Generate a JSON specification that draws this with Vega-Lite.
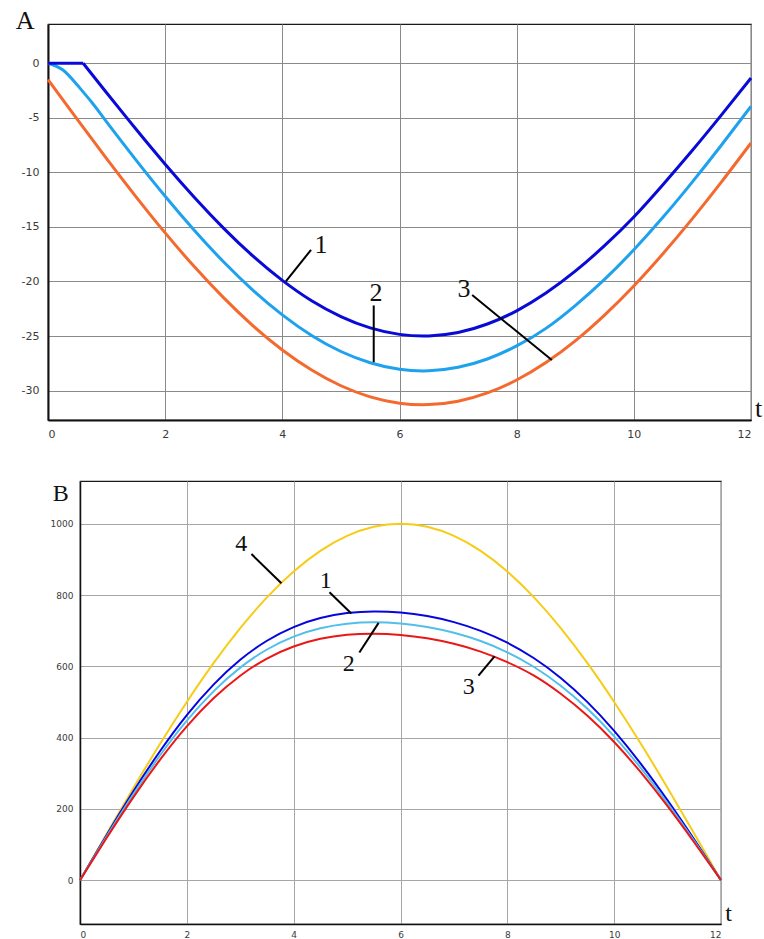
{
  "$schema": "https://vega.github.io/schema/vega-lite/v6.json",
  "background": "white",
  "padding": {"top": 7, "left": 0, "right": 0, "bottom": 0},
  "spacing": 40,
  "config": {
    "view": {"stroke": "#1a1a1a", "strokeWidth": 1.2},
    "axis": {
      "labelFont": "DejaVu Sans",
      "labelColor": "#3a3a3a",
      "labelExpr": "'' + datum.value",
      "ticks": false,
      "grid": true,
      "gridOpacity": 1,
      "gridWidth": 1,
      "domainColor": "#111111"
    }
  },
  "datasets": {
    "curvesA": [
      {"curve": "1a", "t": 0, "v": 0}, {"curve": "1a", "t": 0.6, "v": 0},
      {"curve": "1", "t": 0.6, "v": 0}, {"curve": "1", "t": 1, "v": -2.70}, {"curve": "1", "t": 1.5, "v": -6.03},
      {"curve": "1", "t": 2, "v": -9.25}, {"curve": "1", "t": 2.5, "v": -12.30}, {"curve": "1", "t": 3, "v": -15.13},
      {"curve": "1", "t": 3.5, "v": -17.68}, {"curve": "1", "t": 4, "v": -19.90}, {"curve": "1", "t": 4.5, "v": -21.77},
      {"curve": "1", "t": 5, "v": -23.22}, {"curve": "1", "t": 5.5, "v": -24.26}, {"curve": "1", "t": 6, "v": -24.85},
      {"curve": "1", "t": 6.5, "v": -24.99}, {"curve": "1", "t": 7, "v": -24.68}, {"curve": "1", "t": 7.5, "v": -23.90},
      {"curve": "1", "t": 8, "v": -22.69}, {"curve": "1", "t": 8.5, "v": -21.06}, {"curve": "1", "t": 9, "v": -19.06},
      {"curve": "1", "t": 9.5, "v": -16.72}, {"curve": "1", "t": 10, "v": -14.09}, {"curve": "1", "t": 10.5, "v": -11.11},
      {"curve": "1", "t": 11, "v": -7.98}, {"curve": "1", "t": 11.5, "v": -4.71}, {"curve": "1", "t": 12, "v": -1.35},

      {"curve": "2", "t": 0, "v": 0}, {"curve": "2", "t": 0.25, "v": -0.6}, {"curve": "2", "t": 0.5, "v": -2.0},
      {"curve": "2", "t": 0.75, "v": -3.6}, {"curve": "2", "t": 1, "v": -5.37}, {"curve": "2", "t": 1.5, "v": -8.85},
      {"curve": "2", "t": 2, "v": -12.19}, {"curve": "2", "t": 2.5, "v": -15.33}, {"curve": "2", "t": 3, "v": -18.22},
      {"curve": "2", "t": 3.5, "v": -20.81}, {"curve": "2", "t": 4, "v": -23.06}, {"curve": "2", "t": 4.5, "v": -24.95},
      {"curve": "2", "t": 5, "v": -26.42}, {"curve": "2", "t": 5.5, "v": -27.45}, {"curve": "2", "t": 6, "v": -28.05},
      {"curve": "2", "t": 6.5, "v": -28.19}, {"curve": "2", "t": 7, "v": -27.87}, {"curve": "2", "t": 7.5, "v": -27.11},
      {"curve": "2", "t": 8, "v": -25.91}, {"curve": "2", "t": 8.5, "v": -24.30}, {"curve": "2", "t": 9, "v": -22.21},
      {"curve": "2", "t": 9.5, "v": -19.81}, {"curve": "2", "t": 10, "v": -17.10}, {"curve": "2", "t": 10.5, "v": -14.10},
      {"curve": "2", "t": 11, "v": -10.87}, {"curve": "2", "t": 11.5, "v": -7.47}, {"curve": "2", "t": 12, "v": -3.95},

      {"curve": "3", "t": 0, "v": -1.5}, {"curve": "3", "t": 0.5, "v": -5.15}, {"curve": "3", "t": 1, "v": -8.74},
      {"curve": "3", "t": 1.5, "v": -12.22}, {"curve": "3", "t": 2, "v": -15.55}, {"curve": "3", "t": 2.5, "v": -18.66},
      {"curve": "3", "t": 3, "v": -21.51}, {"curve": "3", "t": 3.5, "v": -24.07}, {"curve": "3", "t": 4, "v": -26.28},
      {"curve": "3", "t": 4.5, "v": -28.12}, {"curve": "3", "t": 5, "v": -29.56}, {"curve": "3", "t": 5.5, "v": -30.58},
      {"curve": "3", "t": 6, "v": -31.16}, {"curve": "3", "t": 6.5, "v": -31.29}, {"curve": "3", "t": 7, "v": -30.98},
      {"curve": "3", "t": 7.5, "v": -30.22}, {"curve": "3", "t": 8, "v": -29.03}, {"curve": "3", "t": 8.5, "v": -27.43},
      {"curve": "3", "t": 9, "v": -25.44}, {"curve": "3", "t": 9.5, "v": -23.08}, {"curve": "3", "t": 10, "v": -20.41},
      {"curve": "3", "t": 10.5, "v": -17.44}, {"curve": "3", "t": 11, "v": -14.24}, {"curve": "3", "t": 11.5, "v": -10.85},
      {"curve": "3", "t": 12, "v": -7.31}
    ],
    "labelsA": [
      {"label": "A", "t": -0.39, "v": 3.84},
      {"label": "1", "t": 4.66, "v": -16.7},
      {"label": "2", "t": 5.6, "v": -21.1},
      {"label": "3", "t": 7.1, "v": -20.7},
      {"label": "t", "t": 12.13, "v": -31.7}
    ],
    "leadersA": [
      {"t": 4.49, "v": -17.1, "t2": 4.06, "v2": -20.0},
      {"t": 5.56, "v": -22.2, "t2": 5.56, "v2": -27.4},
      {"t": 7.24, "v": -21.25, "t2": 8.6, "v2": -27.2}
    ],
    "curvesB": [
      {"curve": "4", "t": 0, "v": 0}, {"curve": "4", "t": 0.5, "v": 130.5}, {"curve": "4", "t": 1, "v": 258.8},
      {"curve": "4", "t": 1.5, "v": 382.7}, {"curve": "4", "t": 2, "v": 500}, {"curve": "4", "t": 2.5, "v": 608.8},
      {"curve": "4", "t": 3, "v": 707.1}, {"curve": "4", "t": 3.5, "v": 793.4}, {"curve": "4", "t": 4, "v": 866.0},
      {"curve": "4", "t": 4.5, "v": 923.9}, {"curve": "4", "t": 5, "v": 965.9}, {"curve": "4", "t": 5.5, "v": 991.4},
      {"curve": "4", "t": 6, "v": 1000}, {"curve": "4", "t": 6.5, "v": 991.4}, {"curve": "4", "t": 7, "v": 965.9},
      {"curve": "4", "t": 7.5, "v": 923.9}, {"curve": "4", "t": 8, "v": 866.0}, {"curve": "4", "t": 8.5, "v": 793.4},
      {"curve": "4", "t": 9, "v": 707.1}, {"curve": "4", "t": 9.5, "v": 608.8}, {"curve": "4", "t": 10, "v": 500},
      {"curve": "4", "t": 10.5, "v": 382.7}, {"curve": "4", "t": 11, "v": 258.8}, {"curve": "4", "t": 11.5, "v": 130.5},
      {"curve": "4", "t": 12, "v": 0},

      {"curve": "1", "t": 0, "v": 0}, {"curve": "1", "t": 0.5, "v": 127.0}, {"curve": "1", "t": 1, "v": 249.3},
      {"curve": "1", "t": 1.5, "v": 362.4}, {"curve": "1", "t": 2, "v": 463.1}, {"curve": "1", "t": 2.5, "v": 548.7},
      {"curve": "1", "t": 3, "v": 618.2}, {"curve": "1", "t": 3.5, "v": 671.8}, {"curve": "1", "t": 4, "v": 710.2},
      {"curve": "1", "t": 4.5, "v": 735.4}, {"curve": "1", "t": 5, "v": 749.4}, {"curve": "1", "t": 5.5, "v": 754.1},
      {"curve": "1", "t": 6, "v": 751.0}, {"curve": "1", "t": 6.5, "v": 741.0}, {"curve": "1", "t": 7, "v": 724.0},
      {"curve": "1", "t": 7.5, "v": 699.5}, {"curve": "1", "t": 8, "v": 666.2}, {"curve": "1", "t": 8.5, "v": 622.7},
      {"curve": "1", "t": 9, "v": 567.4}, {"curve": "1", "t": 9.5, "v": 499.6}, {"curve": "1", "t": 10, "v": 419.1},
      {"curve": "1", "t": 10.5, "v": 326.5}, {"curve": "1", "t": 11, "v": 223.9}, {"curve": "1", "t": 11.5, "v": 113.9},
      {"curve": "1", "t": 12, "v": 0},

      {"curve": "2", "t": 0, "v": 0}, {"curve": "2", "t": 0.5, "v": 123.0}, {"curve": "2", "t": 1, "v": 241.3},
      {"curve": "2", "t": 1.5, "v": 350.5}, {"curve": "2", "t": 2, "v": 447.6}, {"curve": "2", "t": 2.5, "v": 529.8},
      {"curve": "2", "t": 3, "v": 596.3}, {"curve": "2", "t": 3.5, "v": 647.2}, {"curve": "2", "t": 4, "v": 683.4},
      {"curve": "2", "t": 4.5, "v": 706.8}, {"curve": "2", "t": 5, "v": 719.5}, {"curve": "2", "t": 5.5, "v": 723.4},
      {"curve": "2", "t": 6, "v": 720.0}, {"curve": "2", "t": 6.5, "v": 710.3}, {"curve": "2", "t": 7, "v": 694.1},
      {"curve": "2", "t": 7.5, "v": 670.9}, {"curve": "2", "t": 8, "v": 639.4}, {"curve": "2", "t": 8.5, "v": 598.1},
      {"curve": "2", "t": 9, "v": 545.5}, {"curve": "2", "t": 9.5, "v": 480.7}, {"curve": "2", "t": 10, "v": 403.6},
      {"curve": "2", "t": 10.5, "v": 314.6}, {"curve": "2", "t": 11, "v": 215.9}, {"curve": "2", "t": 11.5, "v": 109.9},
      {"curve": "2", "t": 12, "v": 0},

      {"curve": "3", "t": 0, "v": 0}, {"curve": "3", "t": 0.5, "v": 118.8}, {"curve": "3", "t": 1, "v": 233.0},
      {"curve": "3", "t": 1.5, "v": 338.3}, {"curve": "3", "t": 2, "v": 431.6}, {"curve": "3", "t": 2.5, "v": 510.3},
      {"curve": "3", "t": 3, "v": 573.7}, {"curve": "3", "t": 3.5, "v": 621.8}, {"curve": "3", "t": 4, "v": 655.6},
      {"curve": "3", "t": 4.5, "v": 677.2}, {"curve": "3", "t": 5, "v": 688.5}, {"curve": "3", "t": 5.5, "v": 691.6},
      {"curve": "3", "t": 6, "v": 688.0}, {"curve": "3", "t": 6.5, "v": 678.5}, {"curve": "3", "t": 7, "v": 663.1},
      {"curve": "3", "t": 7.5, "v": 641.3}, {"curve": "3", "t": 8, "v": 611.6}, {"curve": "3", "t": 8.5, "v": 573.8},
      {"curve": "3", "t": 9, "v": 522.9}, {"curve": "3", "t": 9.5, "v": 461.2}, {"curve": "3", "t": 10, "v": 387.6},
      {"curve": "3", "t": 10.5, "v": 302.4}, {"curve": "3", "t": 11, "v": 207.6}, {"curve": "3", "t": 11.5, "v": 105.7},
      {"curve": "3", "t": 12, "v": 0}
    ],
    "labelsB": [
      {"label": "B", "t": -0.36, "v": 1083},
      {"label": "4", "t": 3.02, "v": 943},
      {"label": "1", "t": 4.6, "v": 840},
      {"label": "2", "t": 5.03, "v": 606},
      {"label": "3", "t": 7.28, "v": 541},
      {"label": "t", "t": 12.14, "v": -95}
    ],
    "leadersB": [
      {"t": 3.21, "v": 915, "t2": 3.77, "v2": 833},
      {"t": 4.67, "v": 808, "t2": 5.08, "v2": 748},
      {"t": 5.23, "v": 639, "t2": 5.59, "v2": 722},
      {"t": 7.46, "v": 574, "t2": 7.76, "v2": 628}
    ]
  },
  "vconcat": [
    {
      "width": 703,
      "height": 396,
      "encoding": {
        "x": {
          "field": "t", "type": "quantitative", "title": null,
          "scale": {"domain": [0, 12], "nice": false, "zero": false},
          "axis": {"values": [0, 2, 4, 6, 8, 10, 12], "labelFontSize": 11, "labelPadding": 8, "domainWidth": 2, "gridColor": "#8a8a8a"}
        },
        "y": {
          "field": "v", "type": "quantitative", "title": null,
          "scale": {"domain": [-32.7, 3.6], "nice": false, "zero": false},
          "axis": {"values": [-30, -25, -20, -15, -10, -5, 0], "labelFontSize": 11, "labelPadding": 9, "domainWidth": 2, "gridColor": "#8a8a8a", "minExtent": 47}
        }
      },
      "layer": [
        {
          "data": {"name": "curvesA"},
          "transform": [{"filter": "datum.curve == '3'"}],
          "mark": {"type": "line", "color": "#f4692e", "strokeWidth": 3, "interpolate": "natural"}
        },
        {
          "data": {"name": "curvesA"},
          "transform": [{"filter": "datum.curve == '2'"}],
          "mark": {"type": "line", "color": "#1ea2ee", "strokeWidth": 3, "interpolate": "natural"}
        },
        {
          "data": {"name": "curvesA"},
          "transform": [{"filter": "datum.curve == '1a'"}],
          "mark": {"type": "line", "color": "#0a0ad8", "strokeWidth": 3}
        },
        {
          "data": {"name": "curvesA"},
          "transform": [{"filter": "datum.curve == '1'"}],
          "mark": {"type": "line", "color": "#0a0ad8", "strokeWidth": 3, "interpolate": "natural"}
        },
        {
          "data": {"name": "leadersA"},
          "mark": {"type": "rule", "color": "#000000", "strokeWidth": 2},
          "encoding": {"x2": {"field": "t2"}, "y2": {"field": "v2"}}
        },
        {
          "data": {"name": "labelsA"},
          "mark": {"type": "text", "font": "Liberation Serif", "fontSize": 26, "color": "#111111", "align": "center", "baseline": "middle"},
          "encoding": {"text": {"field": "label", "type": "nominal"}}
        }
      ]
    },
    {
      "spacing": 0,
      "hconcat": [
        {
          "width": 1,
          "height": 1,
          "view": {"stroke": null},
          "data": {"values": [{"gap": 0}]},
          "mark": {"type": "point", "size": 0, "opacity": 0},
          "encoding": {}
        },
        {
          "width": 641,
          "height": 443,
          "encoding": {
            "x": {
              "field": "t", "type": "quantitative", "title": null,
              "scale": {"domain": [0, 12], "nice": false, "zero": false},
              "axis": {"values": [0, 2, 4, 6, 8, 10, 12], "labelFontSize": 9, "labelPadding": 6, "domainWidth": 1.5, "gridColor": "#a6a6a6"}
            },
            "y": {
              "field": "v", "type": "quantitative", "title": null,
              "scale": {"domain": [-123, 1120], "nice": false, "zero": false},
              "axis": {"values": [0, 200, 400, 600, 800, 1000], "labelFontSize": 9, "labelPadding": 7, "domainWidth": 1.5, "gridColor": "#a6a6a6", "minExtent": 30}
            }
          },
          "layer": [
            {
              "data": {"name": "curvesB"},
              "transform": [{"filter": "datum.curve == '4'"}],
              "mark": {"type": "line", "color": "#f6cc16", "strokeWidth": 2, "interpolate": "natural"}
            },
            {
              "data": {"name": "curvesB"},
              "transform": [{"filter": "datum.curve == '1'"}],
              "mark": {"type": "line", "color": "#0505e0", "strokeWidth": 2, "interpolate": "natural"}
            },
            {
              "data": {"name": "curvesB"},
              "transform": [{"filter": "datum.curve == '2'"}],
              "mark": {"type": "line", "color": "#52bfea", "strokeWidth": 2, "interpolate": "natural"}
            },
            {
              "data": {"name": "curvesB"},
              "transform": [{"filter": "datum.curve == '3'"}],
              "mark": {"type": "line", "color": "#ec1616", "strokeWidth": 2, "interpolate": "natural"}
            },
            {
              "data": {"name": "leadersB"},
              "mark": {"type": "rule", "color": "#000000", "strokeWidth": 2},
              "encoding": {"x2": {"field": "t2"}, "y2": {"field": "v2"}}
            },
            {
              "data": {"name": "labelsB"},
              "mark": {"type": "text", "font": "Liberation Serif", "fontSize": 24, "color": "#111111", "align": "center", "baseline": "middle"},
              "encoding": {"text": {"field": "label", "type": "nominal"}}
            }
          ]
        }
      ]
    }
  ]
}
